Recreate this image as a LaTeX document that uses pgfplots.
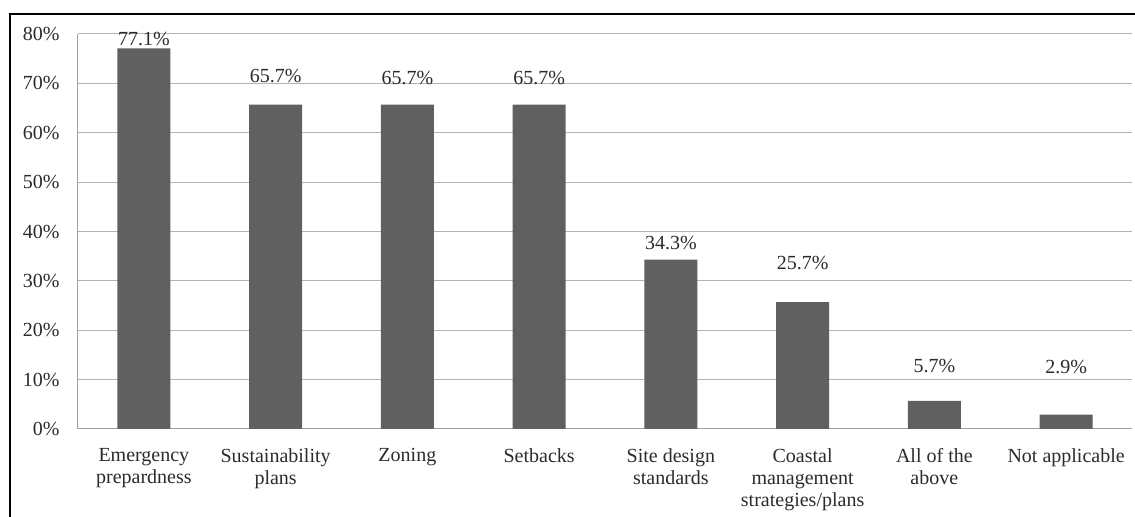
\documentclass[border=0pt]{standalone}
\usepackage{pgfplots}
\pgfplotsset{compat=1.18}
\usepackage{pgfplotstable}
\usepackage{fontspec}
\setmainfont{Liberation Serif}

\definecolor{barfill}{HTML}{606060}
\definecolor{gridgray}{HTML}{B4B4B4}
\definecolor{axisgray}{HTML}{A0A0A0}
\definecolor{labelcol}{HTML}{2B2B2B}

% share of respondents per measure; off = label lift above the bar (pt)
\pgfplotstableread{
x val off
0 77.1 1.5
1 65.7 11
2 65.7 10
3 65.7 10
4 34.3 5
5 25.7 16.5
6 5.7 14
7 2.9 20.5
}\measures

\begin{document}
\fontsize{10}{11}\selectfont
\begin{tikzpicture}
\path[use as bounding box] (0,0) rectangle (567.5pt,258.5pt);
% frame of the figure box
\draw[line width=1pt, black] (5pt,0) -- (5pt,251.5pt) -- (567.5pt,251.5pt);
\begin{axis}[
  at={(39pt,44pt)}, anchor=south west,
  scale only axis, width=527pt, height=197.5pt,
  xmin=-0.5, xmax=7.5, ymin=0, ymax=80,
  /pgf/number format/assume math mode=true,
  axis x line*=bottom, axis y line*=left,
  axis line style={draw=axisgray, line width=0.5pt},
  major tick length=0pt,
  ymajorgrids, grid style={draw=gridgray, line width=0.5pt},
  ytick={0,10,...,80},
  yticklabel={\pgfmathprintnumber{\tick}\%},
  yticklabel style={anchor=east, inner sep=0pt, xshift=-9pt},
  xtick={0,...,7},
  xticklabels={{Emergency\\prepardness},{Sustainability\\plans},{Zoning},{Setbacks},{Site design\\standards},{Coastal\\management\\strategies/plans},{All of the\\above},{Not applicable}},
  xticklabel style={align=center, anchor=north, inner sep=0pt, yshift=-9.5pt},
  every tick label/.append style={font=\fontsize{10}{11}\selectfont, text=labelcol},
  ybar, bar width=26.5pt,
  visualization depends on={\thisrow{off}\as\labeloff},
  nodes near coords={\pgfmathprintnumber[fixed,fixed zerofill,precision=1]{\pgfplotspointmeta}\%},
  nodes near coords style={anchor=base, inner sep=0pt, yshift=\labeloff pt, font=\fontsize{10}{11}\selectfont, text=labelcol},
]
\addplot[fill=barfill, draw=none] table[x=x, y=val] {\measures};
\end{axis}
\end{tikzpicture}
\end{document}
